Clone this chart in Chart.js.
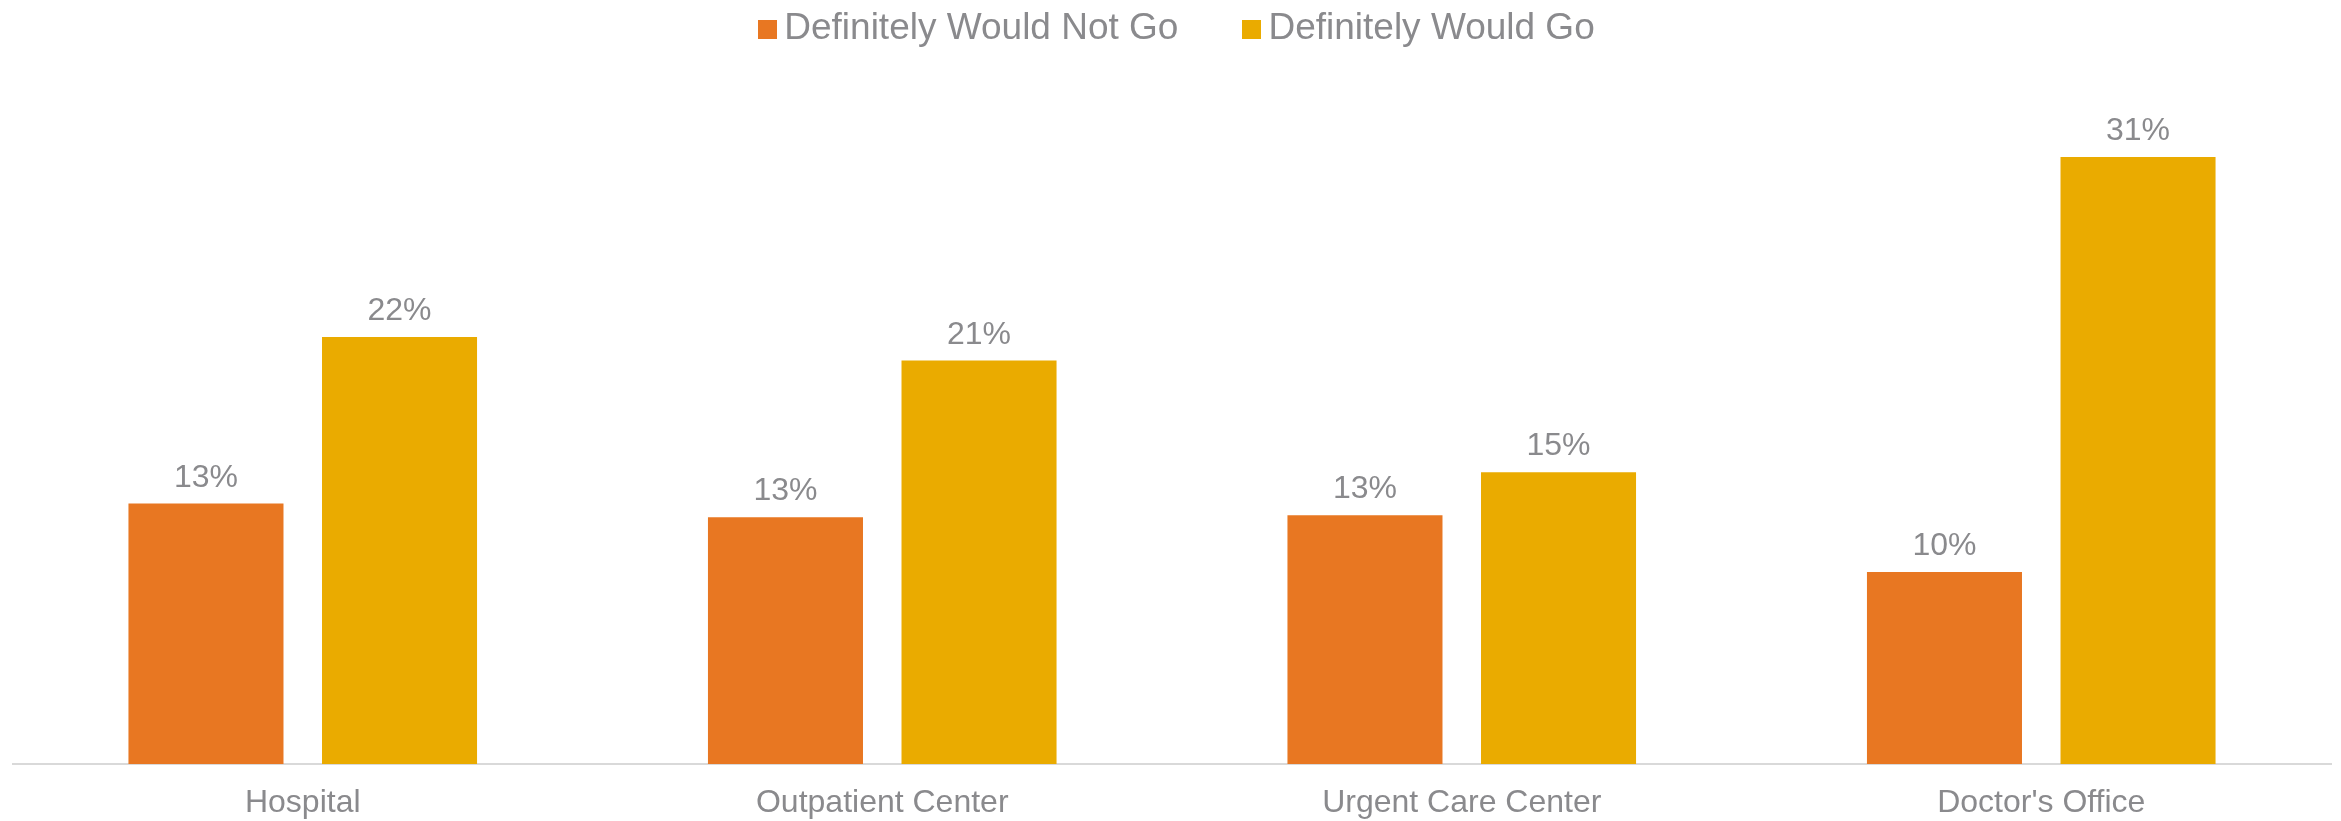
<!DOCTYPE html>
<html>
<head>
<meta charset="utf-8">
<script src="https://cdn.jsdelivr.net/npm/chart.js@4"></script>
<style>
    body { margin: 0; background: #fff; }
    #wrap { position: relative; width: 2341px; height: 821px; }
    #legend {
        position: absolute; top: 6px; left: 12px; right: 0;
        display: flex; justify-content: center; align-items: center;
        font-family: "Liberation Sans", Arial, sans-serif; font-size: 37px; color: #8a8a8d;
    }
    #legend .item { display: flex; align-items: center; margin: 0 32px; }
    #legend .box { width: 19px; height: 19px; margin-right: 7px; margin-top: 4px; }
</style>
</head>
<body>
<div id="wrap">
    <div id="legend"></div>
    <canvas id="barChart"></canvas>
</div>
<script>
var categories = ['Hospital', 'Outpatient Center', 'Urgent Care Center', "Doctor's Office"];
var seriesNames = ['Definitely Would Not Go', 'Definitely Would Go'];
var seriesColors = ['#E87722', '#EAAB00'];
var wouldNotGo = [13.3, 12.6, 12.7, 9.8];
var wouldGo = [21.8, 20.6, 14.9, 31.0];

var textColor = '#8a8a8d';
var fontFamily = '"Liberation Sans", Arial, sans-serif';

// legend as html so the spacing can follow the original
var legend = document.getElementById('legend');
seriesNames.forEach(function (name, i) {
    var item = document.createElement('div');
    item.className = 'item';
    var box = document.createElement('span');
    box.className = 'box';
    box.style.background = seriesColors[i];
    item.appendChild(box);
    item.appendChild(document.createTextNode(name));
    legend.appendChild(item);
});

// value labels above the bars
var barLabels = {
    id: 'barLabels',
    afterDatasetsDraw: function (chart) {
        var ctx = chart.ctx;
        ctx.save();
        ctx.font = '32px ' + fontFamily;
        ctx.fillStyle = textColor;
        ctx.textAlign = 'center';
        ctx.textBaseline = 'alphabetic';
        chart.data.datasets.forEach(function (ds, i) {
            chart.getDatasetMeta(i).data.forEach(function (bar, j) {
                ctx.fillText(Math.round(ds.data[j]) + '%', bar.x, bar.y - 17);
            });
        });
        ctx.restore();
    }
};

var barChart = document.getElementById('barChart').getContext('2d');

var barChartObj = new Chart(barChart, {
    type: 'bar',
    data: {
        labels: categories,
        datasets: [{
            label: seriesNames[0],
            data: wouldNotGo,
            backgroundColor: seriesColors[0]
        }, {
            label: seriesNames[1],
            data: wouldGo,
            backgroundColor: seriesColors[1]
        }]
    },
    options: {
        responsive: true,
        maintainAspectRatio: false,
        animation: false,
        categoryPercentage: 0.668,
        barPercentage: 0.801,
        layout: {
            padding: { top: 59, left: 13, right: 10, bottom: 0 }
        },
        plugins: {
            legend: { display: false },
            tooltip: { enabled: false }
        },
        scales: {
            x: {
                grid: { display: false },
                border: { display: true, color: '#d9d9d9', width: 2 },
                ticks: {
                    color: textColor,
                    font: { family: fontFamily, size: 32 },
                    padding: 12
                },
                afterFit: function (scale) {
                    scale.height = 57;
                }
            },
            y: {
                display: false,
                min: 0,
                max: 36
            }
        }
    },
    plugins: [barLabels]
});
</script>
</body>
</html>
